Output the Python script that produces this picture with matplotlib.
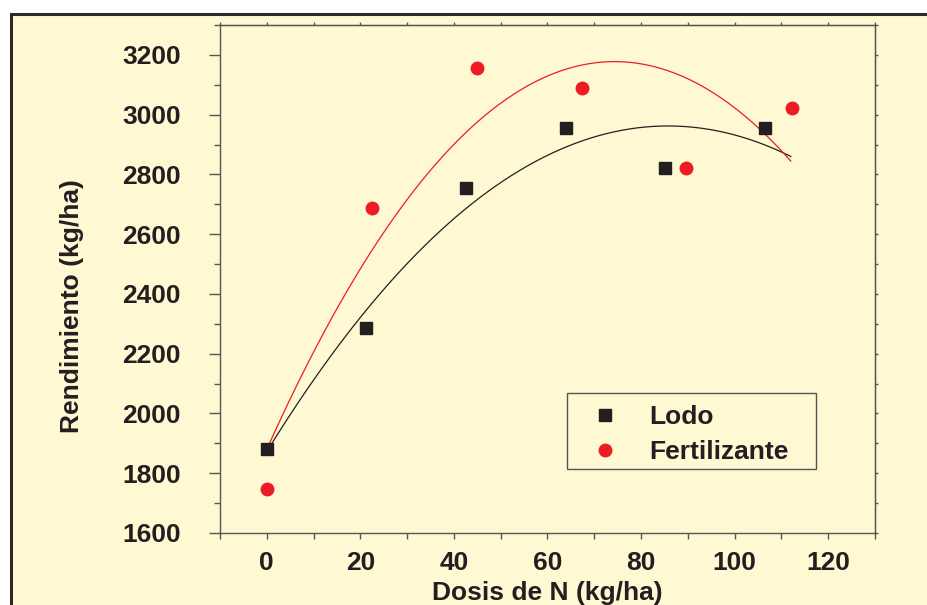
import numpy as np
import matplotlib.pyplot as plt
from matplotlib.patches import Rectangle

plt.rcParams['font.family'] = ['Liberation Sans', 'DejaVu Sans']
plt.rcParams['font.weight'] = 'bold'

# datos
dosis_lodo = [0, 21.2, 42.6, 64, 85.1, 106.5]
rend_lodo = [1881, 2286, 2755, 2956, 2822, 2956]
dosis_fert = [0, 22.4, 44.9, 67.3, 89.6, 112.3]
rend_fert = [1747, 2687, 3157, 3090, 2822, 3023]

bg = '#FEF9D3'
c_lodo = '#231F20'
c_fert = '#ED1C24'

fig = plt.figure(figsize=(9.28, 6.05), dpi=100)
fig.patch.set_facecolor('white')
# marco de la figura (cortado a la derecha y abajo)
frame = Rectangle((11.5/928, -0.05), 1.0, (605-14)/605 + 0.05, transform=fig.transFigure,
                  facecolor=bg, edgecolor='#2b2b2b', linewidth=2.2, clip_on=False, zorder=-10)
fig.patches.append(frame)

ax = fig.add_axes([220/928, 72/605, 655/928, 508/605])
ax.set_facecolor(bg)

# ajuste cuadratico de cada serie
xf = np.linspace(0, 112, 200)
p_lodo = np.polyfit(dosis_lodo, rend_lodo, 2)
p_fert = np.polyfit(dosis_fert, rend_fert, 2)
ax.plot(xf, np.polyval(p_lodo, xf), color=c_lodo, lw=0.9)
ax.plot(xf, np.polyval(p_fert, xf), color=c_fert, lw=0.9)

ax.plot(dosis_lodo, rend_lodo, 's', color=c_lodo, ms=8.5, ls='none', label='Lodo')
ax.plot(dosis_fert, rend_fert, 'o', color=c_fert, ms=9, ls='none', label='Fertilizante')

ax.set_xlim(-10, 130)
ax.set_ylim(1600, 3300)
ax.set_xticks(np.arange(0, 121, 20))
ax.set_xticks(np.arange(-10, 131, 10), minor=True)
ax.set_yticks(np.arange(1600, 3201, 200))
ax.set_yticks(np.arange(1700, 3301, 200), minor=True)

for s in ax.spines.values():
    s.set_color('#555555')
    s.set_linewidth(1.0)

ax.tick_params(axis='both', which='both', colors='#555555', labelcolor='#231F20',
               labelsize=19, direction='out')
ax.tick_params(axis='x', which='both', length=4, width=1, pad=9)
ax.tick_params(axis='y', which='major', length=8, width=1, pad=20)
ax.tick_params(axis='y', which='minor', length=4, width=1)

# ticks cortos arriba y a la derecha
top = ax.secondary_xaxis('top')
top.set_xticks(np.arange(-10, 131, 10))
top.tick_params(length=2, width=1, colors='#555555', labeltop=False)
right = ax.secondary_yaxis('right')
right.set_yticks(np.arange(1600, 3301, 100))
right.tick_params(length=2, width=1, colors='#555555', labelright=False)

ax.set_xlabel('Dosis de N (kg/ha)', fontsize=19, fontweight='bold', color='#231F20', labelpad=4)
ax.set_ylabel('Rendimiento (kg/ha)', fontsize=19, fontweight='bold', color='#231F20')
ax.yaxis.set_label_coords(-0.207, 0.447)

# leyenda con caja propia
x0, y1 = (567-220)/655, (533-393)/508
x1, y0 = (816-220)/655, (533-469)/508
ax.add_patch(Rectangle((x0, y0), x1-x0, y1-y0, transform=ax.transAxes, facecolor=bg,
                       edgecolor='#555555', linewidth=1.0, zorder=4))
leg = ax.legend(loc='upper left', bbox_to_anchor=(x0, y1),
                fontsize=19, frameon=False, handletextpad=0.65, borderpad=0.45,
                labelspacing=0.42, handlelength=2.0, borderaxespad=0)
leg.set_zorder(5)
for t in leg.get_texts():
    t.set_color('#231F20')

fig.savefig('out.png', dpi=100, facecolor=fig.get_facecolor())
